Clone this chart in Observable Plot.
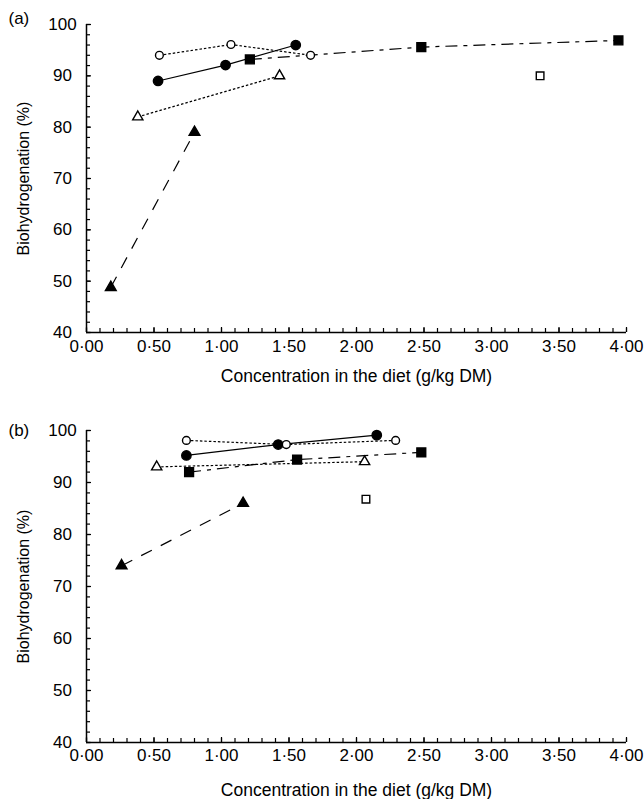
<!DOCTYPE html>
<html>
<head>
<meta charset="utf-8">
<script src="https://cdn.jsdelivr.net/npm/d3@7"></script>
<script src="https://cdn.jsdelivr.net/npm/@observablehq/plot@0.6"></script>
<style>
  body { margin: 0; background: #fff; }
  #chart svg { display: block; }
</style>
</head>
<body>
<div id="chart"></div>
<script>
// ---------- Data ----------
// Panel (a)
const a_filledCircle_x = [0.53, 1.03, 1.55];
const a_filledCircle_y = [89, 92.1, 96];
const a_openCircle_x = [0.54, 1.07, 1.66];
const a_openCircle_y = [94, 96.1, 94];
const a_filledSquare_x = [1.21, 2.48, 3.94];
const a_filledSquare_y = [93.2, 95.6, 96.9];
const a_openTriangle_x = [0.38, 1.43];
const a_openTriangle_y = [82, 90];
const a_filledTriangle_x = [0.18, 0.80];
const a_filledTriangle_y = [48.8, 79];
const a_openSquare_x = [3.36];
const a_openSquare_y = [90];

// Panel (b)
const b_filledCircle_x = [0.74, 1.42, 2.15];
const b_filledCircle_y = [95.2, 97.3, 99.1];
const b_openCircle_x = [0.74, 1.48, 2.29];
const b_openCircle_y = [98.1, 97.3, 98.1];
const b_filledSquare_x = [0.76, 1.56, 2.48];
const b_filledSquare_y = [92, 94.4, 95.8];
const b_openTriangle_x = [0.52, 2.06];
const b_openTriangle_y = [93, 94];
const b_filledTriangle_x = [0.26, 1.16];
const b_filledTriangle_y = [74, 86];
const b_openSquare_x = [2.07];
const b_openSquare_y = [86.8];

// Axis ticks
const xMajorTicks = [0, 0.5, 1, 1.5, 2, 2.5, 3, 3.5, 4];
const xMinorTicks = d3.range(0, 41).map(i => i / 10);
const yMajorTicks = [40, 50, 60, 70, 80, 90, 100];
const yMinorTicks = d3.range(40, 101, 2);

const xTitle = "Concentration in the diet (g/kg DM)";
const yTitle = "Biohydrogenation (%)";

// ---------- Build ----------
const zip = (xs, ys) => xs.map((x, i) => ({x, y: ys[i]}));
const fmtX = d => d.toFixed(2).replace(".", "\u00b7");

const styles = {
  filledCircle: {symbol: "circle", fill: "black", r: 4.7, dash: null},
  openCircle: {symbol: "circle", fill: "white", r: 3.9, dash: "2.5,2"},
  filledSquare: {symbol: "square", fill: "black", r: 5.0, dash: "12,6,4,6"},
  openTriangle: {symbol: "triangle", fill: "white", r: 3.8, dash: "2.5,2"},
  filledTriangle: {symbol: "triangle", fill: "black", r: 4.0, dash: "12,10"},
  openSquare: {symbol: "square", fill: "white", r: 4.3, dash: null}
};

function panel(series, tag, opts) {
  const marks = [];
  // axis lines
  marks.push(Plot.ruleX([0], {y1: 40, y2: 100, strokeWidth: 1.5}));
  marks.push(Plot.ruleY([40], {x1: 0, x2: 4, strokeWidth: 1.5}));
  // inward ticks
  marks.push(Plot.axisX(xMinorTicks, {tickSize: -4, text: null, label: null, strokeWidth: 1.2}));
  marks.push(Plot.axisX(xMajorTicks, {tickSize: -5, text: null, label: null, strokeWidth: 1.2}));
  marks.push(Plot.axisX(xMajorTicks, {tickSize: 0, tickPadding: opts.xTickPad, tickFormat: fmtX, label: null, fontSize: 17}));
  marks.push(Plot.axisY(yMinorTicks, {tickSize: -4, text: null, label: null, strokeWidth: 1.2}));
  marks.push(Plot.axisY(yMajorTicks, {tickSize: -5, text: null, label: null, strokeWidth: 1.2}));
  marks.push(Plot.axisY(yMajorTicks, {tickSize: 0, tickPadding: 24, textAnchor: "middle", label: null, fontSize: 17}));
  // lines then markers
  for (const [key, xs, ys] of series) {
    const s = styles[key];
    const data = zip(xs, ys);
    if (data.length > 1) {
      marks.push(Plot.line(data, {x: "x", y: "y", stroke: "black", strokeWidth: 1.2, strokeDasharray: s.dash, strokeLinecap: "butt"}));
    }
  }
  for (const [key, xs, ys] of series) {
    const s = styles[key];
    marks.push(Plot.dot(zip(xs, ys), {x: "x", y: "y", symbol: s.symbol, r: s.r, fill: s.fill, stroke: "black", strokeWidth: 1.4}));
  }
  // titles
  marks.push(Plot.text([xTitle], {frameAnchor: "bottom", lineAnchor: "middle", textAnchor: "middle", dy: opts.xTitleDy, fontSize: 17.5, text: d => d}));
  marks.push(Plot.text([yTitle], {frameAnchor: "left", lineAnchor: "middle", textAnchor: "middle", dx: -63, rotate: -90, fontSize: 16, text: d => d}));
  marks.push(Plot.text([tag], {frameAnchor: "top-left", lineAnchor: "middle", dx: -78, dy: opts.tagDy, textAnchor: "start", fontSize: 17, text: d => d}));

  return Plot.plot({
    width: 644,
    height: opts.height,
    marginLeft: 86,
    marginRight: 18,
    marginTop: opts.marginTop,
    marginBottom: opts.marginBottom,
    x: {domain: [0, 4], axis: null},
    y: {domain: [40, 100], axis: null},
    style: {fontFamily: "'Liberation Sans', Arial, Helvetica, sans-serif", fontSize: "17px", color: "black", background: "white", overflow: "visible"},
    marks
  });
}

const seriesA = [
  ["filledCircle", a_filledCircle_x, a_filledCircle_y],
  ["openCircle", a_openCircle_x, a_openCircle_y],
  ["filledSquare", a_filledSquare_x, a_filledSquare_y],
  ["openTriangle", a_openTriangle_x, a_openTriangle_y],
  ["filledTriangle", a_filledTriangle_x, a_filledTriangle_y],
  ["openSquare", a_openSquare_x, a_openSquare_y]
];
const seriesB = [
  ["filledCircle", b_filledCircle_x, b_filledCircle_y],
  ["openCircle", b_openCircle_x, b_openCircle_y],
  ["filledSquare", b_filledSquare_x, b_filledSquare_y],
  ["openTriangle", b_openTriangle_x, b_openTriangle_y],
  ["filledTriangle", b_filledTriangle_x, b_filledTriangle_y],
  ["openSquare", b_openSquare_x, b_openSquare_y]
];

const chart = document.getElementById("chart");
chart.appendChild(panel(seriesA, "(a)", {height: 400, marginTop: 24, marginBottom: 68, xTitleDy: 44, tagDy: -6, xTickPad: 7}));
chart.appendChild(panel(seriesB, "(b)", {height: 399, marginTop: 30, marginBottom: 57, xTitleDy: 48, tagDy: 0, xTickPad: 6}));
</script>
</body>
</html>
